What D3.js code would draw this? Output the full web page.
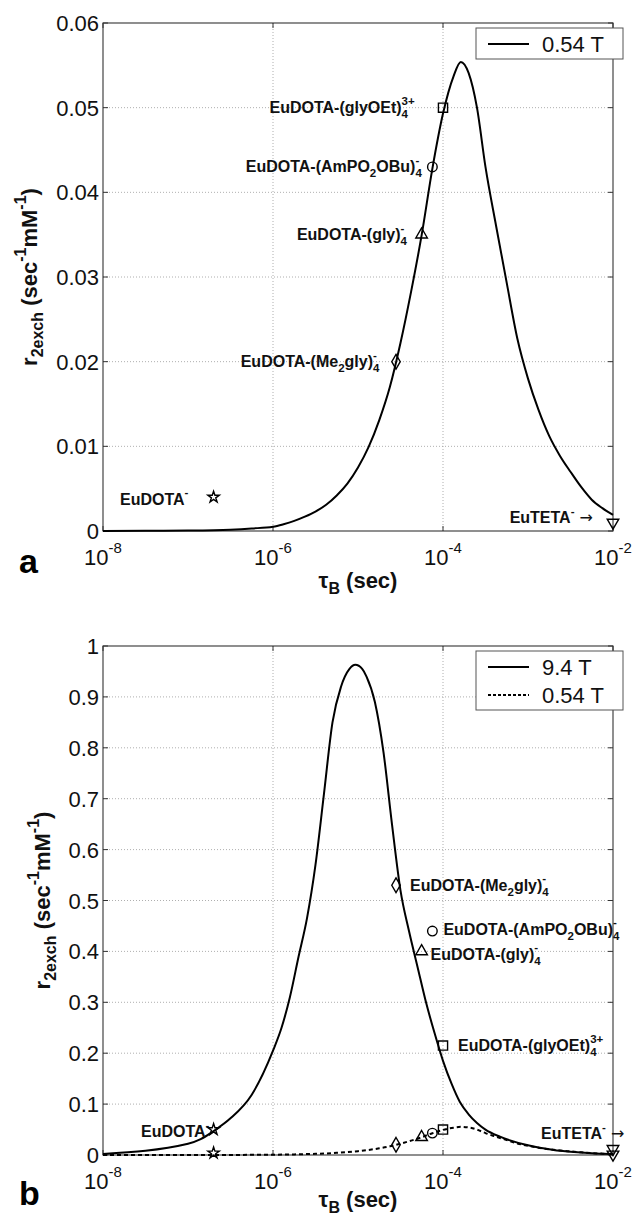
<!DOCTYPE html>
<html><head><meta charset="utf-8">
<script src="https://cdn.jsdelivr.net/npm/d3@7"></script>
<style>
body{margin:0;background:#fff}
svg{display:block}
text{font-family:"Liberation Sans",Arial,Helvetica,sans-serif;white-space:pre}
</style>
</head><body>
<svg id="c" width="634" height="1219"></svg>
<script>
// ---------------- DATA ----------------
// 0.54 T curve (tau_B in sec, r2exch in sec^-1 mM^-1)
const tau054 = [1e-8, 3.16e-8, 1e-7, 3.16e-7, 5.62e-7, 1e-6, 1.33e-6, 1.78e-6, 2.37e-6, 3.16e-6, 4.22e-6, 5.62e-6, 7.5e-6, 1e-5, 1.33e-5, 1.78e-5, 2.37e-5, 3.16e-5, 4.22e-5, 5.62e-5, 7.5e-5, 1e-4, 1.33e-4, 1.62e-4, 2e-4, 2.51e-4, 3.16e-4, 4.22e-4, 5.62e-4, 7.5e-4, 1e-3, 1.33e-3, 1.78e-3, 2.37e-3, 3.16e-3, 4.22e-3, 5.62e-3, 7.5e-3, 1e-2];
const r2_054 = [0, 0.00002, 0.00005, 0.00016, 0.0003, 0.0005, 0.0008, 0.0012, 0.0017, 0.0023, 0.0031, 0.0042, 0.0056, 0.0075, 0.0099, 0.0131, 0.0170, 0.0222, 0.0283, 0.035, 0.0428, 0.0493, 0.0537, 0.0554, 0.0541, 0.0500, 0.0430, 0.0360, 0.0293, 0.0227, 0.0180, 0.0143, 0.0112, 0.0089, 0.0070, 0.0052, 0.0037, 0.0027, 0.0019];
// 9.4 T curve
const tau94 = [1e-8, 1e-7, 1.41e-7, 2e-7, 3.16e-7, 5.6e-7, 1e-6, 1.26e-6, 1.58e-6, 2e-6, 2.51e-6, 3.16e-6, 3.98e-6, 5.01e-6, 6.31e-6, 7.94e-6, 9.3e-6, 1.12e-5, 1.26e-5, 1.58e-5, 2e-5, 2.51e-5, 3.16e-5, 3.98e-5, 5.01e-5, 6.31e-5, 7.94e-5, 1e-4, 1.26e-4, 1.58e-4, 2e-4, 2.51e-4, 3.16e-4, 4.68e-4, 1e-3, 2e-3, 3.16e-3, 5.6e-3, 1e-2];
const r2_94 = [0.002, 0.022, 0.031, 0.047, 0.072, 0.118, 0.205, 0.25, 0.31, 0.39, 0.465, 0.57, 0.71, 0.85, 0.92, 0.955, 0.963, 0.955, 0.94, 0.89, 0.79, 0.65, 0.52, 0.44, 0.37, 0.30, 0.24, 0.185, 0.14, 0.104, 0.08, 0.063, 0.05, 0.036, 0.019, 0.010, 0.0065, 0.0035, 0.002];

// compounds (markers)
const compounds = ["EuDOTA-", "EuDOTA-(Me2gly)4-", "EuDOTA-(gly)4-", "EuDOTA-(AmPO2OBu)4-", "EuDOTA-(glyOEt)4 3+", "EuTETA-"];
const markerShapes = ["star", "diamond", "triangle", "circle", "square", "triangleDown"];
const markerTau = [2e-7, 2.8e-5, 5.6e-5, 7.5e-5, 1e-4, 1e-2];
const markerR054 = [0.004, 0.02, 0.035, 0.043, 0.05, 0.001];
const markerR94 = [0.05, 0.53, 0.40, 0.44, 0.215, 0.012];
// rich-text pieces of each compound label
const labelParts = [
  [["n","EuDOTA"],["sup","-"]],
  [["n","EuDOTA-(Me"],["sub","2"],["n","gly)"],["stack","4","-"]],
  [["n","EuDOTA-(gly)"],["stack","4","-"]],
  [["n","EuDOTA-(AmPO"],["sub","2"],["n","OBu)"],["stack","4","-"]],
  [["n","EuDOTA-(glyOEt)"],["stack","4","3+"]],
  [["n","EuTETA"],["sup","-"],["arrow"," \u2192"]]
];

// ticks
const xTickExps = [-8, -6, -4, -2];
const yTicksA = [0, 0.01, 0.02, 0.03, 0.04, 0.05, 0.06];
const yTickLabelsA = ["0", "0.01", "0.02", "0.03", "0.04", "0.05", "0.06"];
const yTicksB = [0, 0.1, 0.2, 0.3, 0.4, 0.5, 0.6, 0.7, 0.8, 0.9, 1];
const yTickLabelsB = ["0", "0.1", "0.2", "0.3", "0.4", "0.5", "0.6", "0.7", "0.8", "0.9", "1"];
const legendA = ["0.54 T"];
const legendB = ["9.4 T", "0.54 T"];

// ---------------- LAYOUT ----------------
const labelLayoutA = [
  {anchor:"end", dx:-25, dy:2}, {anchor:"end", dx:-16, dy:0}, {anchor:"end", dx:-14, dy:0},
  {anchor:"end", dx:-10, dy:0}, {anchor:"end", dx:-28, dy:0}, {anchor:"end", dx:-20, dy:-5}
];
const labelLayoutB = [
  {anchor:"end", dx:-4, dy:2}, {anchor:"start", dx:14, dy:0}, {anchor:"start", dx:9, dy:3},
  {anchor:"start", dx:11, dy:-2}, {anchor:"start", dx:15, dy:0}, {anchor:"start", dx:-72, dy:-15}
];

const svg = d3.select("#c");

function rich(parent, parts, o) {
  const fs = o.fs, small = o.small || fs * 0.7;
  const subOff = o.subOff != null ? o.subOff : fs * 0.35;
  const supOff = o.supOff != null ? o.supOff : -fs * 0.5;
  const t = parent.append("text").attr("font-size", fs)
    .attr("font-weight", o.bold ? "bold" : "normal").attr("fill", "#111");
  let cur = 0;
  parts.forEach(p => {
    const k = p[0];
    if (k === "n") { t.append("tspan").attr("dy", -cur).text(p[1]); cur = 0; }
    else if (k === "arrow") {
      t.append("tspan").attr("dy", -cur).attr("font-family", "DejaVu Sans").attr("font-weight", "normal").text(p[1]); cur = 0;
    }
    else if (k === "sub") { t.append("tspan").attr("font-size", small).attr("dy", subOff - cur).text(p[1]); cur = subOff; }
    else if (k === "sup") { t.append("tspan").attr("font-size", small).attr("dy", supOff - cur).text(p[1]); cur = supOff; }
    else if (k === "stack") {
      const s = t.append("tspan").attr("font-size", small).attr("dy", subOff - cur).text(p[1]);
      const w = s.node().getComputedTextLength();
      t.append("tspan").attr("font-size", small).attr("dx", -w).attr("dy", supOff - subOff).text(p[2]);
      cur = supOff;
    }
  });
  return t;
}
function place(t, x, y, anchor) {
  const b = t.node().getBBox();
  let tx = x;
  if (anchor === "end") tx = x - (b.x + b.width);
  else if (anchor === "middle") tx = x - (b.x + b.width / 2);
  else tx = x - b.x;
  t.attr("transform", `translate(${tx},${y})`);
}

function symbolPath(shape) {
  const m = {
    star: d3.symbol(d3.symbolStar, 40),
    diamond: d3.symbol(d3.symbolDiamond, 62),
    triangle: d3.symbol(d3.symbolTriangle, 58),
    circle: d3.symbol(d3.symbolCircle, 72),
    square: d3.symbol(d3.symbolSquare, 84),
    triangleDown: d3.symbol(d3.symbolTriangle, 58)
  };
  return m[shape]();
}

function panel(cfg) {
  const g = svg.append("g");
  const x = d3.scaleLog().domain([1e-8, 1e-2]).range([103, 613]);
  const y = d3.scaleLinear().domain(cfg.yDomain).range([cfg.y0, cfg.y1]);
  const L = 103, R = 613, T = cfg.y1, B = cfg.y0;

  // grid
  const grid = g.append("g").attr("stroke", "#9a9a9a").attr("stroke-width", 0.8).attr("stroke-dasharray", "1,2");
  cfg.yTicks.slice(1, -1).forEach(v => grid.append("line").attr("x1", L).attr("x2", R).attr("y1", y(v)).attr("y2", y(v)));
  xTickExps.slice(1, -1).forEach(e => grid.append("line").attr("x1", x(Math.pow(10, e))).attr("x2", x(Math.pow(10, e))).attr("y1", T).attr("y2", B));

  // box and ticks
  g.append("rect").attr("x", L).attr("y", T).attr("width", R - L).attr("height", B - T)
    .attr("fill", "none").attr("stroke", "#333").attr("stroke-width", 1.1);
  const tk = g.append("g").attr("stroke", "#333").attr("stroke-width", 1);
  cfg.yTicks.forEach(v => {
    tk.append("line").attr("x1", L).attr("x2", L + 5).attr("y1", y(v)).attr("y2", y(v));
    tk.append("line").attr("x1", R).attr("x2", R - 5).attr("y1", y(v)).attr("y2", y(v));
  });
  xTickExps.forEach(e => {
    const xx = x(Math.pow(10, e));
    tk.append("line").attr("x1", xx).attr("x2", xx).attr("y1", B).attr("y2", B - 5);
    tk.append("line").attr("x1", xx).attr("x2", xx).attr("y1", T).attr("y2", T + 5);
  });

  // y tick labels
  cfg.yTicks.forEach((v, i) => {
    g.append("text").attr("x", 99).attr("y", y(v) + 8).attr("text-anchor", "end")
      .attr("font-size", 22).attr("fill", "#111").text(cfg.yTickLabels[i]);
  });
  // x tick labels
  xTickExps.forEach(e => {
    const t = rich(g, [["n", "10"], ["sup", String(e)]], {fs: 22, small: 15, supOff: -12});
    place(t, x(Math.pow(10, e)), B + 34, "middle");
  });

  // curves
  const line = d3.line().x(d => x(d[0])).y(d => y(d[1])).curve(d3.curveMonotoneX);
  cfg.curves.forEach(c => {
    g.append("path").attr("d", line(c.tau.map((t, i) => [t, c.r[i]])))
      .attr("fill", "none").attr("stroke", "#000").attr("stroke-width", 2)
      .attr("stroke-dasharray", c.dash || null);
  });

  // markers
  cfg.markerSets.forEach(ms => {
    markerTau.forEach((t, i) => {
      const sh = markerShapes[i];
      g.append("path").attr("d", symbolPath(sh))
        .attr("transform", `translate(${x(t)},${y(ms[i])})` + (sh === "triangleDown" ? " rotate(180)" : ""))
        .attr("fill", "none").attr("stroke", "#000").attr("stroke-width", 1.4);
    });
  });

  // compound labels
  markerTau.forEach((t, i) => {
    const lay = cfg.labelLayout[i];
    const txt = rich(g, labelParts[i], {fs: 16, bold: true, small: 11.5, subOff: 5, supOff: -8.5});
    place(txt, x(t) + lay.dx, y(cfg.labelR[i]) + lay.dy + 5.5, lay.anchor);
  });

  // legend
  const lg = g.append("g");
  const lh = 28 * cfg.legend.length + 3;
  lg.append("rect").attr("x", 476).attr("y", cfg.legendY).attr("width", 147).attr("height", lh)
    .attr("fill", "#fff").attr("stroke", "#555").attr("stroke-width", 1);
  cfg.legend.forEach((s, i) => {
    const cy = cfg.legendY + 16 + i * 28;
    lg.append("line").attr("x1", 488).attr("x2", 529).attr("y1", cy).attr("y2", cy)
      .attr("stroke", "#000").attr("stroke-width", 2).attr("stroke-dasharray", cfg.legendDash[i] || null);
    lg.append("text").attr("x", 542).attr("y", cy + 8).attr("font-size", 22).attr("fill", "#111").text(s);
  });

  // axis labels
  const xl = rich(g, [["n", "\u03C4"], ["sub", "B"], ["n", " (sec)"]], {fs: 22, bold: true, small: 16, subOff: 6});
  place(xl, 358, B + cfg.xLabelDy, "middle");
  const yg = g.append("g").attr("transform", `translate(${cfg.yLabelX},${(T + B) / 2}) rotate(-90)`);
  const yl = rich(yg, [["n", "r"], ["sub", "2exch"], ["n", " (sec"], ["sup", "-1"], ["n", "mM"], ["sup", "-1"], ["n", ")"]],
    {fs: 22, bold: true, small: 16, subOff: 6, supOff: -11});
  place(yl, 0, 0, "middle");

  // panel letter
  g.append("text").attr("x", 19).attr("y", cfg.letterY).attr("font-size", 34).attr("font-weight", "bold")
    .attr("fill", "#000").text(cfg.letter);
}

panel({
  yDomain: [0, 0.06], y0: 531, y1: 23, yTicks: yTicksA, yTickLabels: yTickLabelsA,
  curves: [{tau: tau054, r: r2_054}],
  markerSets: [markerR054], labelR: markerR054, labelLayout: labelLayoutA,
  legend: legendA, legendDash: [null], legendY: 28, yLabelX: 37, letter: "a", letterY: 573, xLabelDy: 57
});
panel({
  yDomain: [0, 1], y0: 1155, y1: 646, yTicks: yTicksB, yTickLabels: yTickLabelsB,
  curves: [{tau: tau94, r: r2_94}, {tau: tau054, r: r2_054, dash: "4,3"}],
  markerSets: [markerR94, markerR054], labelR: markerR94, labelLayout: labelLayoutB,
  legend: legendB, legendDash: [null, "3,2"], legendY: 651, yLabelX: 50, letter: "b", letterY: 1205, xLabelDy: 52
});
</script>
</body></html>
